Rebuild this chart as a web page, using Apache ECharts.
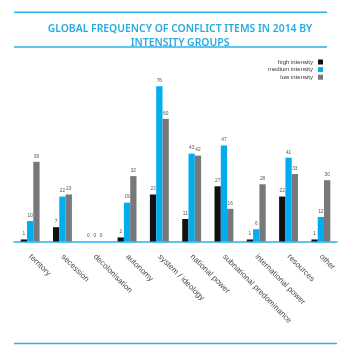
<!DOCTYPE html>
<html><head><meta charset="utf-8">
<script src="https://cdn.jsdelivr.net/npm/echarts@6/dist/echarts.min.js"></script>
<style>html,body{margin:0;padding:0;background:#fff}#c{width:341px;height:354px}</style>
</head><body><div id="c"></div>
<script>
const categories = ['territory','secession','decolonisation','autonomy','system / ideology','national power','subnational predominance','international power','resources','other'];
const highIntensity = [1, 7, 0, 2, 23, 11, 27, 1, 22, 1];
const mediumIntensity = [10, 22, 0, 19, 76, 43, 47, 6, 41, 12];
const lowIntensity = [39, 23, 0, 32, 60, 42, 16, 28, 33, 30];
const seriesNames = ['high intensity','medium intensity','low intensity'];
const colors = ['#111111','#00aeef','#77787b'];
const lineColor = '#29b3ec';

const chart = echarts.init(document.getElementById('c'), null, {renderer:'canvas'});
const lbl = {show:true, position:'top', distance:3, fontSize:4.8, color:'#555', fontFamily:'Liberation Sans'};
function mk(i, data){
  return {name:seriesNames[i], type:'bar', data:data, barWidth:6.3, barGap:'0%',
    itemStyle:{color:colors[i]}, label:lbl, silent:true};
}
chart.setOption({
  animation:false,
  title:{text:'GLOBAL FREQUENCY OF CONFLICT ITEMS IN 2014 BY\nINTENSITY GROUPS', left:175, top:17, textAlign:'center',
    textStyle:{color:'#2aaae2', fontSize:10.4, fontWeight:600, fontFamily:'Noto Sans', lineHeight:14}},
  legend:{orient:'vertical', right:13, top:54, align:'right', itemWidth:5, itemHeight:5, itemGap:1.6,
    icon:'rect', data:seriesNames, textStyle:{fontSize:6, color:'#333', fontFamily:'Liberation Sans', padding:[0,0,0,0]}},
  grid:{left:14, right:4, top:78, bottom:112.5, containLabel:false},
  xAxis:{type:'category', data:categories,
    axisLine:{lineStyle:{color:lineColor, width:1.5}},
    axisTick:{alignWithLabel:true, length:8, lineStyle:{color:lineColor, width:1.2}},
    axisLabel:{rotate:-45, margin:14, fontSize:8, color:'#4a4a4a', fontFamily:'Liberation Sans', interval:0}},
  yAxis:{type:'value', min:0, max:80, show:false, splitLine:{show:false}},
  series:[mk(0, highIntensity), mk(1, mediumIntensity), mk(2, lowIntensity)],
  graphic:[
    {type:'line', shape:{x1:14,y1:12.3,x2:327,y2:12.3}, style:{stroke:lineColor, lineWidth:1.6}},
    {type:'line', shape:{x1:14,y1:47,x2:327,y2:47}, style:{stroke:lineColor, lineWidth:1.6}},
    {type:'line', shape:{x1:14,y1:343.5,x2:337,y2:343.5}, style:{stroke:lineColor, lineWidth:1.6}}
  ]
});
</script></body></html>
